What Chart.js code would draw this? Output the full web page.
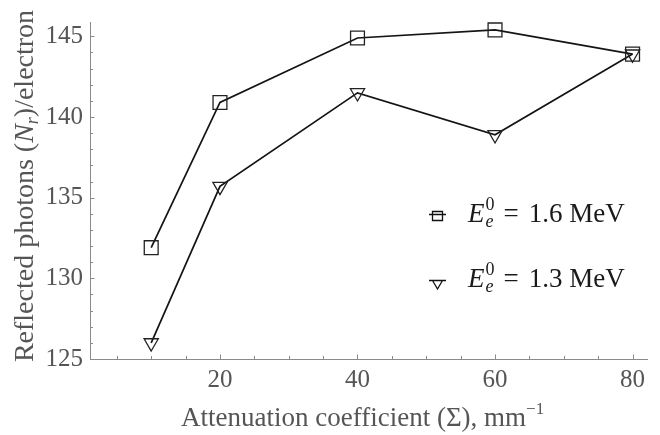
<!DOCTYPE html>
<html>
<head>
<meta charset="utf-8">
<script src="https://cdn.jsdelivr.net/npm/chart.js@4"></script>
<style>
  body { margin: 0; background: #fff; }
  canvas { display: block; }
</style>
</head>
<body>
<canvas id="photonChart" width="660" height="435"></canvas>
<script>
// attenuation coefficient, mm^-1
const attenuation = [10, 20, 40, 60, 80];
// reflected photons per electron
const photons16MeV = [131.9, 140.9, 144.9, 145.4, 143.9];
const photons13MeV = [126.0, 135.7, 141.5, 138.9, 143.9];

const xTickLabels = [20, 40, 60, 80];
const yTickLabels = [125, 130, 135, 140, 145];

const SERIF = '"Liberation Serif", "Times New Roman", serif';
const AXIS_GRAY = '#8a8a8a';
const LABEL_GRAY = '#555';

function toPoints(ys) {
    return attenuation.map((x, i) => ({ x: x, y: ys[i] }));
}

// draw a row of text pieces (normal / italic / shifted) starting at x
function runWidth(ctx, runs) {
    let w = 0;
    runs.forEach(r => {
        ctx.font = (r.italic ? 'italic ' : '') + r.size + 'px ' + SERIF;
        w += ctx.measureText(r.text).width;
    });
    return w;
}

function drawRuns(ctx, runs, x, y) {
    runs.forEach(r => {
        ctx.font = (r.italic ? 'italic ' : '') + r.size + 'px ' + SERIF;
        ctx.fillText(r.text, x, y + (r.dy || 0));
        x += ctx.measureText(r.text).width + (r.gap || 0);
    });
    return x;
}

// E_e^0 = ... with sub and sup stacked after the E
function drawEnergy(ctx, value, x, y) {
    ctx.font = 'italic 27px ' + SERIF;
    ctx.fillText('E', x, y);
    x += ctx.measureText('E').width + 1;
    ctx.font = '18px ' + SERIF;
    const w0 = ctx.measureText('0').width;
    ctx.fillText('0', x, y - 12);
    ctx.font = 'italic 18px ' + SERIF;
    const we = ctx.measureText('e').width;
    ctx.fillText('e', x, y + 5);
    x += Math.max(w0, we) + 9;
    drawRuns(ctx, [
        { text: '=', size: 27, gap: 10 },
        { text: value + ' MeV', size: 27 }
    ], x, y);
}

const decorations = {
    id: 'decorations',
    afterDraw(chart) {
        const ctx = chart.ctx;
        const xs = chart.scales.x;
        const ys = chart.scales.y;
        const area = chart.chartArea;
        ctx.save();

        // inward tick marks
        ctx.strokeStyle = AXIS_GRAY;
        ctx.lineWidth = 1;
        ctx.beginPath();
        for (let v = 5; v <= 80; v += 5) {
            const px = Math.round(xs.getPixelForValue(v)) + 0.5;
            const len = xTickLabels.includes(v) ? 4.5 : 3;
            ctx.moveTo(px, area.bottom);
            ctx.lineTo(px, area.bottom - len);
        }
        for (let v = 126; v <= 145; v += 1) {
            const py = Math.round(ys.getPixelForValue(v)) + 0.5;
            const len = yTickLabels.includes(v) ? 4.5 : 3;
            ctx.moveTo(area.left, py);
            ctx.lineTo(area.left + len, py);
        }
        ctx.stroke();

        // axis titles
        ctx.fillStyle = LABEL_GRAY;
        ctx.textBaseline = 'alphabetic';
        const xTitle = [
            { text: 'Attenuation coefficient (\u03A3), mm', size: 27 },
            { text: '\u22121', size: 17, dy: -12 }
        ];
        drawRuns(ctx, xTitle, 181, 426);

        const yTitle = [
            { text: 'Reflected photons (', size: 28 },
            { text: 'N', size: 28, italic: true },
            { text: 'r', size: 18, italic: true, dy: 5 },
            { text: ')/electron', size: 28 }
        ];
        const yw = runWidth(ctx, yTitle);
        ctx.save();
        ctx.translate(33, 186);
        ctx.rotate(-Math.PI / 2);
        drawRuns(ctx, yTitle, -yw / 2, 0);
        ctx.restore();

        // legend
        ctx.strokeStyle = '#111';
        ctx.lineWidth = 1.3;
        ctx.beginPath();
        ctx.moveTo(429, 214.5); ctx.lineTo(446, 214.5);
        ctx.rect(432.5, 211.5, 10, 9);
        ctx.moveTo(429, 280.5); ctx.lineTo(446, 280.5);
        ctx.moveTo(432.5, 280.5); ctx.lineTo(442.5, 280.5); ctx.lineTo(437.5, 289); ctx.closePath();
        ctx.stroke();

        ctx.fillStyle = '#1a1a1a';
        drawEnergy(ctx, '1.6', 468, 222);
        drawEnergy(ctx, '1.3', 468, 287);

        ctx.restore();
    }
};

new Chart(document.getElementById('photonChart'), {
    type: 'line',
    data: {
        datasets: [
            {
                label: '1.6 MeV',
                data: toPoints(photons16MeV),
                borderColor: '#141414',
                borderWidth: 1.7,
                tension: 0,
                pointStyle: 'rect',
                pointRadius: 9.8,
                pointHoverRadius: 9.8,
                pointBorderColor: '#222',
                pointBorderWidth: 1.3,
                pointBackgroundColor: 'rgba(0,0,0,0)'
            },
            {
                label: '1.3 MeV',
                data: toPoints(photons13MeV),
                borderColor: '#141414',
                borderWidth: 1.7,
                tension: 0,
                pointStyle: 'triangle',
                pointRotation: 180,
                pointRadius: 8.2,
                pointHoverRadius: 8.2,
                pointBorderColor: '#222',
                pointBorderWidth: 1.3,
                pointBackgroundColor: 'rgba(0,0,0,0)'
            }
        ]
    },
    options: {
        responsive: false,
        animation: false,
        layout: { padding: { top: 14, right: 13, left: 0, bottom: 0 } },
        plugins: {
            legend: { display: false },
            tooltip: { enabled: false }
        },
        scales: {
            x: {
                type: 'linear',
                min: 1.1,
                max: 82.1,
                afterBuildTicks: s => { s.ticks = xTickLabels.map(v => ({ value: v })); },
                afterFit: s => { s.height = 76; },
                ticks: {
                    autoSkip: false,
                    maxRotation: 0,
                    padding: 6,
                    color: LABEL_GRAY,
                    font: { family: SERIF, size: 25 }
                },
                grid: { drawOnChartArea: false, drawTicks: false },
                border: { display: true, color: AXIS_GRAY, width: 1 }
            },
            y: {
                type: 'linear',
                min: 125,
                max: 145.89,
                afterBuildTicks: s => { s.ticks = yTickLabels.map(v => ({ value: v })); },
                afterFit: s => { s.width = 90; },
                ticks: {
                    autoSkip: false,
                    padding: 7,
                    color: LABEL_GRAY,
                    font: { family: SERIF, size: 25 }
                },
                grid: { drawOnChartArea: false, drawTicks: false },
                border: { display: true, color: AXIS_GRAY, width: 1 }
            }
        }
    },
    plugins: [decorations]
});
</script>
</body>
</html>
